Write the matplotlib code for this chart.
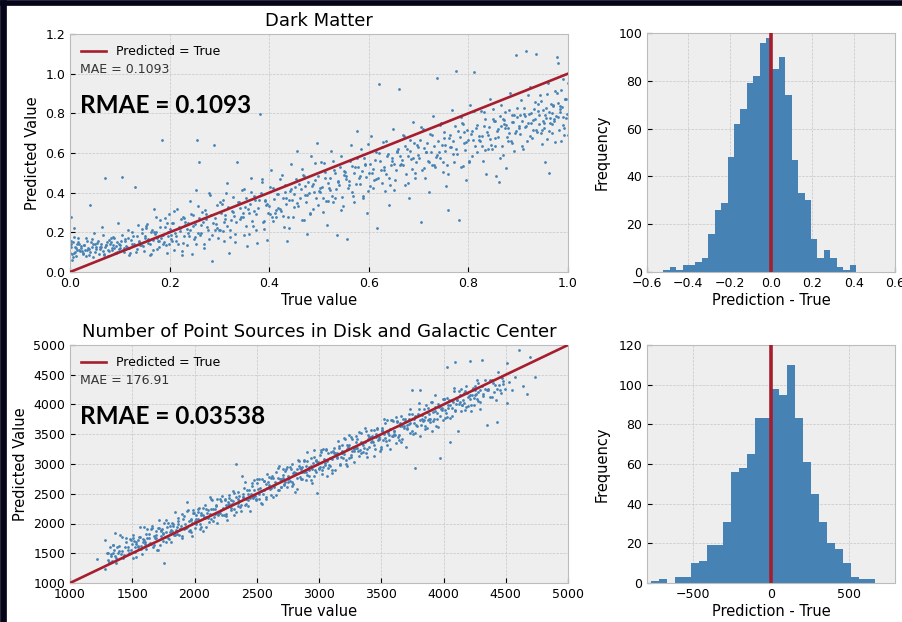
import numpy as np
import matplotlib
matplotlib.use("Agg")
import matplotlib.pyplot as plt
from matplotlib.patches import Rectangle

# Dark Matter: true value vs predicted value
dm_true = [
    0.002, 0.004, 0.006, 0.001, 0.008, 0.003, 0.012, 0.015, 0.009, 0.018,
    0.022, 0.027, 0.031, 0.035, 0.038, 0.041, 0.044, 0.047, 0.025, 0.049,
    0.052, 0.055, 0.058, 0.061, 0.064, 0.067, 0.070, 0.073, 0.076, 0.079,
    0.081, 0.084, 0.087, 0.090, 0.093, 0.096, 0.099, 0.102, 0.105, 0.108,
    0.111, 0.114, 0.117, 0.121, 0.124, 0.127, 0.131, 0.134, 0.137, 0.139,
    0.142, 0.145, 0.148, 0.151, 0.154, 0.157, 0.161, 0.164, 0.167, 0.169,
    0.172, 0.175, 0.178, 0.181, 0.184, 0.187, 0.191, 0.194, 0.197, 0.199,
    0.202, 0.205, 0.208, 0.211, 0.214, 0.217, 0.221, 0.224, 0.227, 0.229,
    0.231, 0.234, 0.237, 0.241, 0.244, 0.247, 0.251, 0.254, 0.256, 0.259,
    0.262, 0.266, 0.270, 0.273, 0.277, 0.281, 0.285, 0.289, 0.293, 0.297,
    0.301, 0.305, 0.309, 0.312, 0.316, 0.320, 0.324, 0.328, 0.332, 0.336,
    0.341, 0.345, 0.349, 0.352, 0.356, 0.360, 0.364, 0.368, 0.372, 0.376,
    0.381, 0.385, 0.389, 0.392, 0.396, 0.400, 0.404, 0.408, 0.412, 0.416,
    0.421, 0.425, 0.429, 0.432, 0.436, 0.440, 0.444, 0.448, 0.452, 0.456,
    0.461, 0.465, 0.469, 0.472, 0.476, 0.480, 0.484, 0.488, 0.492, 0.496,
    0.501, 0.505, 0.509, 0.512, 0.516, 0.520, 0.524, 0.528, 0.532, 0.536,
    0.541, 0.545, 0.549, 0.552, 0.556, 0.560, 0.564, 0.568, 0.572, 0.576,
    0.581, 0.585, 0.589, 0.592, 0.596, 0.600, 0.604, 0.608, 0.612, 0.616,
    0.621, 0.625, 0.629, 0.632, 0.636, 0.640, 0.644, 0.648, 0.652, 0.656,
    0.661, 0.665, 0.669, 0.672, 0.676, 0.680, 0.684, 0.688, 0.692, 0.696,
    0.701, 0.705, 0.709, 0.712, 0.716, 0.720, 0.724, 0.728, 0.732, 0.736,
    0.741, 0.745, 0.749, 0.752, 0.756, 0.760, 0.764, 0.768, 0.772, 0.776,
    0.781, 0.785, 0.789, 0.792, 0.796, 0.800, 0.804, 0.808, 0.812, 0.816,
    0.821, 0.825, 0.829, 0.832, 0.836, 0.840, 0.844, 0.848, 0.852, 0.856,
    0.861, 0.865, 0.869, 0.872, 0.876, 0.880, 0.884, 0.888, 0.892, 0.896,
    0.901, 0.905, 0.909, 0.912, 0.916, 0.920, 0.924, 0.928, 0.932, 0.936,
    0.941, 0.944, 0.947, 0.950, 0.953, 0.956, 0.959, 0.962, 0.965, 0.968,
    0.971, 0.974, 0.977, 0.980, 0.983, 0.986, 0.989, 0.992, 0.995, 0.998,
    0.000, 0.005, 0.010, 0.002, 0.014, 0.007, 0.019, 0.023, 0.011, 0.016,
    0.026, 0.029, 0.033, 0.036, 0.040, 0.043, 0.046, 0.050, 0.053, 0.034,
    0.057, 0.060, 0.063, 0.066, 0.069, 0.072, 0.075, 0.078, 0.082, 0.085,
    0.086, 0.089, 0.092, 0.095, 0.098, 0.101, 0.104, 0.107, 0.110, 0.113,
    0.116, 0.119, 0.122, 0.125, 0.128, 0.132, 0.135, 0.138, 0.141, 0.144,
    0.147, 0.150, 0.153, 0.156, 0.160, 0.163, 0.166, 0.170, 0.174, 0.177,
    0.180, 0.183, 0.186, 0.190, 0.193, 0.196, 0.200, 0.204, 0.207, 0.212,
    0.220, 0.223, 0.226, 0.230, 0.235, 0.239, 0.243, 0.248, 0.252, 0.257,
    0.260, 0.264, 0.268, 0.272, 0.276, 0.280, 0.284, 0.288, 0.292, 0.296,
    0.300, 0.304, 0.307, 0.311, 0.315, 0.318, 0.322, 0.326, 0.330, 0.334,
    0.339, 0.343, 0.347, 0.350, 0.354, 0.358, 0.362, 0.366, 0.370, 0.374,
    0.378, 0.383, 0.387, 0.391, 0.394, 0.398, 0.402, 0.406, 0.410, 0.414,
    0.418, 0.423, 0.427, 0.431, 0.434, 0.438, 0.442, 0.446, 0.450, 0.454,
    0.458, 0.463, 0.467, 0.471, 0.474, 0.478, 0.482, 0.486, 0.490, 0.494,
    0.498, 0.503, 0.507, 0.511, 0.514, 0.518, 0.522, 0.526, 0.530, 0.534,
    0.538, 0.543, 0.547, 0.551, 0.554, 0.558, 0.562, 0.566, 0.570, 0.574,
    0.578, 0.583, 0.587, 0.591, 0.594, 0.598, 0.602, 0.606, 0.610, 0.614,
    0.618, 0.623, 0.627, 0.631, 0.634, 0.638, 0.642, 0.646, 0.650, 0.654,
    0.658, 0.663, 0.667, 0.671, 0.674, 0.678, 0.682, 0.686, 0.690, 0.694,
    0.698, 0.703, 0.707, 0.711, 0.714, 0.718, 0.722, 0.726, 0.730, 0.734,
    0.738, 0.743, 0.747, 0.751, 0.754, 0.758, 0.762, 0.766, 0.770, 0.774,
    0.778, 0.783, 0.787, 0.791, 0.794, 0.798, 0.802, 0.806, 0.810, 0.814,
    0.818, 0.823, 0.827, 0.831, 0.834, 0.838, 0.842, 0.846, 0.850, 0.854,
    0.858, 0.863, 0.867, 0.871, 0.874, 0.878, 0.882, 0.886, 0.890, 0.894,
    0.898, 0.903, 0.907, 0.911, 0.914, 0.918, 0.922, 0.926, 0.930, 0.934,
    0.938, 0.942, 0.946, 0.949, 0.952, 0.955, 0.958, 0.961, 0.964, 0.967,
    0.969, 0.972, 0.975, 0.978, 0.981, 0.984, 0.987, 0.990, 0.993, 0.996,
    0.003, 0.008, 0.013, 0.017, 0.021, 0.028, 0.032, 0.039, 0.045, 0.051,
    0.062, 0.068, 0.071, 0.077, 0.083, 0.088, 0.094, 0.100, 0.109, 0.118,
    0.853, 0.859, 0.866, 0.873, 0.879, 0.887, 0.895, 0.904, 0.915, 0.926,
    0.933, 0.939, 0.948, 0.954, 0.963, 0.970, 0.979, 0.985, 0.991, 0.999,
    0.152, 0.158, 0.163, 0.168, 0.173, 0.179, 0.184, 0.189, 0.194, 0.198,
    0.203, 0.209, 0.213, 0.218, 0.224, 0.229, 0.236, 0.241, 0.246, 0.253,
    0.258, 0.263, 0.269, 0.274, 0.279, 0.286, 0.291, 0.295, 0.302, 0.307,
    0.310, 0.314, 0.321, 0.327, 0.331, 0.337, 0.342, 0.348, 0.353, 0.359,
    0.363, 0.369, 0.373, 0.379, 0.386, 0.390, 0.395, 0.401, 0.407, 0.413,
    0.417, 0.422, 0.428, 0.433, 0.439, 0.443, 0.449, 0.455, 0.460, 0.466,
    0.470, 0.475, 0.481, 0.487, 0.491, 0.497, 0.502, 0.508, 0.513, 0.519,
    0.523, 0.529, 0.533, 0.539, 0.544, 0.550, 0.555, 0.561, 0.567, 0.571,
    0.577, 0.582, 0.588, 0.593, 0.599, 0.603, 0.609, 0.615, 0.620, 0.626,
    0.630, 0.635, 0.641, 0.647, 0.651, 0.657, 0.662, 0.668, 0.673, 0.679,
    0.683, 0.689, 0.693, 0.699, 0.704, 0.710, 0.715, 0.721, 0.727, 0.731,
    0.737, 0.742, 0.748, 0.753, 0.759, 0.763, 0.769, 0.775, 0.780, 0.786,
    0.790, 0.795, 0.801, 0.807, 0.811, 0.817, 0.822, 0.828, 0.833, 0.839,
    0.843, 0.849, 0.853, 0.859, 0.864, 0.870, 0.875, 0.881, 0.887, 0.891,
    0.897, 0.902, 0.908, 0.913, 0.919, 0.923, 0.929, 0.935, 0.940, 0.946,
    0.951, 0.957, 0.962, 0.968, 0.973, 0.979, 0.984, 0.990, 0.994, 0.999,
]
dm_pred = [
    0.276, 0.058, 0.152, 0.097, 0.221, 0.124, 0.083, 0.139, 0.178, 0.113,
    0.131, 0.094, 0.112, 0.158, 0.087, 0.337, 0.124, 0.142, 0.105, 0.196,
    0.118, 0.146, 0.093, 0.127, 0.225, 0.108, 0.472, 0.136, 0.081, 0.161,
    0.142, 0.112, 0.178, 0.098, 0.131, 0.245, 0.116, 0.155, 0.478, 0.103,
    0.165, 0.128, 0.212, 0.094, 0.143, 0.181, 0.427, 0.118, 0.236, 0.152,
    0.134, 0.196, 0.105, 0.172, 0.241, 0.148, 0.088, 0.213, 0.163, 0.319,
    0.201, 0.118, 0.157, 0.263, 0.666, 0.142, 0.226, 0.095, 0.184, 0.292,
    0.168, 0.245, 0.112, 0.197, 0.318, 0.143, 0.221, 0.086, 0.276, 0.182,
    0.254, 0.137, 0.198, 0.356, 0.091, 0.232, 0.176, 0.412, 0.668, 0.553,
    0.187, 0.305, 0.122, 0.268, 0.214, 0.386, 0.055, 0.639, 0.241, 0.172,
    0.213, 0.342, 0.156, 0.287, 0.451, 0.098, 0.264, 0.379, 0.192, 0.553,
    0.265, 0.412, 0.187, 0.326, 0.129, 0.298, 0.476, 0.231, 0.364, 0.145,
    0.798, 0.452, 0.218, 0.365, 0.163, 0.331, 0.512, 0.256, 0.297, 0.391,
    0.318, 0.487, 0.226, 0.401, 0.156, 0.362, 0.547, 0.276, 0.428, 0.611,
    0.372, 0.521, 0.264, 0.436, 0.193, 0.397, 0.583, 0.318, 0.462, 0.648,
    0.408, 0.553, 0.301, 0.472, 0.236, 0.426, 0.612, 0.352, 0.497, 0.189,
    0.437, 0.586, 0.332, 0.503, 0.165, 0.458, 0.641, 0.384, 0.528, 0.712,
    0.476, 0.622, 0.371, 0.543, 0.298, 0.497, 0.684, 0.425, 0.567, 0.221,
    0.948, 0.514, 0.657, 0.408, 0.583, 0.336, 0.538, 0.722, 0.463, 0.606,
    0.921, 0.547, 0.693, 0.441, 0.618, 0.372, 0.571, 0.756, 0.497, 0.639,
    0.577, 0.252, 0.723, 0.474, 0.648, 0.405, 0.603, 0.787, 0.528, 0.978,
    0.606, 0.752, 0.503, 0.677, 0.434, 0.312, 0.632, 0.816, 0.557, 1.012,
    0.262, 0.781, 0.532, 0.706, 0.463, 0.664, 0.843, 0.587, 1.008, 0.728,
    0.667, 0.812, 0.561, 0.737, 0.494, 0.693, 0.874, 0.618, 0.761, 0.483,
    0.452, 0.841, 0.592, 0.767, 0.526, 0.724, 0.903, 0.648, 0.792, 1.092,
    0.727, 0.868, 0.621, 0.796, 1.116, 0.752, 0.932, 0.676, 0.821, 1.098,
    0.748, 0.892, 0.644, 0.818, 0.553, 0.776, 0.954, 0.498, 0.847, 0.701,
    0.769, 0.912, 1.086, 1.052, 0.838, 0.662, 0.973, 0.724, 0.871, 0.798,
    0.135, 0.093, 0.125, 0.158, 0.110, 0.075, 0.143, 0.121, 0.103, 0.173,
    0.093, 0.135, 0.170, 0.120, 0.103, 0.153, 0.076, 0.143, 0.128, 0.113,
    0.155, 0.115, 0.128, 0.188, 0.093, 0.138, 0.150, 0.105, 0.170, 0.123,
    0.135, 0.173, 0.098, 0.153, 0.143, 0.120, 0.188, 0.110, 0.158, 0.130,
    0.173, 0.122, 0.161, 0.200, 0.143, 0.101, 0.182, 0.155, 0.134, 0.218,
    0.131, 0.182, 0.224, 0.164, 0.143, 0.203, 0.110, 0.191, 0.173, 0.155,
    0.225, 0.169, 0.187, 0.271, 0.138, 0.201, 0.218, 0.155, 0.246, 0.180,
    0.207, 0.267, 0.147, 0.235, 0.219, 0.183, 0.291, 0.167, 0.243, 0.199,
    0.272, 0.196, 0.254, 0.313, 0.227, 0.164, 0.286, 0.245, 0.214, 0.340,
    0.210, 0.295, 0.365, 0.265, 0.230, 0.330, 0.175, 0.310, 0.280, 0.250,
    0.355, 0.275, 0.300, 0.420, 0.230, 0.320, 0.345, 0.255, 0.385, 0.290,
    0.325, 0.400, 0.250, 0.360, 0.340, 0.295, 0.430, 0.275, 0.370, 0.315,
    0.395, 0.310, 0.375, 0.440, 0.345, 0.275, 0.410, 0.365, 0.330, 0.470,
    0.335, 0.420, 0.490, 0.390, 0.355, 0.455, 0.300, 0.435, 0.405, 0.375,
    0.485, 0.405, 0.430, 0.550, 0.360, 0.450, 0.475, 0.385, 0.515, 0.420,
    0.455, 0.530, 0.380, 0.490, 0.470, 0.425, 0.560, 0.405, 0.500, 0.445,
    0.530, 0.445, 0.510, 0.575, 0.480, 0.410, 0.545, 0.500, 0.465, 0.605,
    0.475, 0.560, 0.630, 0.530, 0.495, 0.595, 0.440, 0.575, 0.545, 0.515,
    0.620, 0.540, 0.565, 0.685, 0.495, 0.585, 0.610, 0.520, 0.650, 0.555,
    0.590, 0.665, 0.515, 0.625, 0.605, 0.560, 0.695, 0.540, 0.635, 0.580,
    0.660, 0.575, 0.640, 0.705, 0.610, 0.540, 0.675, 0.630, 0.595, 0.735,
    0.595, 0.680, 0.750, 0.650, 0.615, 0.715, 0.560, 0.695, 0.665, 0.635,
    0.740, 0.660, 0.685, 0.805, 0.615, 0.705, 0.730, 0.640, 0.770, 0.675,
    0.710, 0.785, 0.635, 0.745, 0.725, 0.680, 0.815, 0.660, 0.755, 0.700,
    0.780, 0.695, 0.760, 0.825, 0.730, 0.660, 0.795, 0.750, 0.715, 0.855,
    0.705, 0.790, 0.860, 0.760, 0.725, 0.825, 0.670, 0.805, 0.775, 0.745,
    0.840, 0.760, 0.785, 0.905, 0.715, 0.805, 0.830, 0.740, 0.870, 0.775,
    0.141, 0.097, 0.119, 0.152, 0.107, 0.138, 0.079, 0.117, 0.164, 0.102,
    0.141, 0.087, 0.124, 0.109, 0.153, 0.119, 0.101, 0.134, 0.121, 0.088,
    0.763, 0.682, 0.738, 0.806, 0.659, 0.756, 0.712, 0.791, 0.738, 0.804,
    0.771, 0.814, 0.716, 0.793, 0.752, 0.836, 0.781, 0.918, 0.693, 0.952,
    0.231, 0.163, 0.091, 0.203, 0.279, 0.127, 0.187, 0.151, 0.247, 0.139,
    0.189, 0.310, 0.157, 0.229, 0.108, 0.270, 0.247, 0.211, 0.288, 0.139,
    0.332, 0.239, 0.140, 0.294, 0.398, 0.189, 0.272, 0.222, 0.354, 0.206,
    0.252, 0.400, 0.213, 0.301, 0.153, 0.351, 0.323, 0.279, 0.373, 0.191,
    0.402, 0.309, 0.210, 0.364, 0.468, 0.259, 0.342, 0.292, 0.424, 0.276,
    0.322, 0.470, 0.283, 0.371, 0.223, 0.421, 0.393, 0.349, 0.443, 0.261,
    0.482, 0.389, 0.290, 0.444, 0.548, 0.339, 0.422, 0.372, 0.504, 0.356,
    0.412, 0.560, 0.373, 0.461, 0.313, 0.511, 0.483, 0.439, 0.533, 0.351,
    0.577, 0.484, 0.385, 0.539, 0.643, 0.434, 0.517, 0.467, 0.599, 0.451,
    0.512, 0.660, 0.473, 0.561, 0.413, 0.611, 0.583, 0.539, 0.633, 0.451,
    0.667, 0.574, 0.475, 0.629, 0.733, 0.524, 0.607, 0.557, 0.689, 0.541,
    0.592, 0.740, 0.553, 0.641, 0.493, 0.691, 0.663, 0.619, 0.713, 0.531,
    0.747, 0.654, 0.555, 0.709, 0.813, 0.604, 0.687, 0.637, 0.769, 0.621,
    0.672, 0.820, 0.633, 0.721, 0.573, 0.771, 0.743, 0.699, 0.793, 0.611,
    0.827, 0.734, 0.635, 0.789, 0.893, 0.684, 0.767, 0.717, 0.849, 0.701,
    0.752, 0.900, 0.713, 0.801, 0.653, 0.851, 0.823, 0.779, 0.873, 0.691,
]

# Dark Matter residual histogram (prediction - true), 30 bins
dm_hist_counts = [1, 2, 1, 3, 3, 4, 6, 16, 26, 29, 48, 62, 68, 79, 82,
                  96, 98, 85, 90, 74, 47, 33, 30, 14, 6, 9, 6, 2, 1, 3]
dm_hist_range = (-0.521, 0.411)

# Point sources: true value vs predicted value
ps_true = [
    1214, 1281, 1283, 1296, 1305, 1318, 1327, 1336, 1342, 1349,
    1352, 1364, 1371, 1385, 1393, 1404, 1418, 1432, 1447, 1466,
    1478, 1486, 1497, 1509, 1521, 1534, 1548, 1561, 1576, 1592,
    1603, 1612, 1626, 1638, 1651, 1664, 1677, 1690, 1703, 1718,
    1729, 1738, 1751, 1755, 1768, 1781, 1794, 1808, 1822, 1839,
    1852, 1864, 1877, 1889, 1902, 1916, 1929, 1943, 1957, 1968,
    1978, 1989, 2003, 2016, 2028, 2041, 2055, 2068, 2082, 2096,
    2104, 2117, 2129, 2142, 2156, 2169, 2183, 2196, 2209, 2221,
    2228, 2241, 2255, 2268, 2281, 2294, 2308, 2321, 2337, 2346,
    2352, 2366, 2379, 2392, 2405, 2418, 2432, 2445, 2459, 2472,
    2478, 2491, 2504, 2517, 2531, 2544, 2557, 2571, 2584, 2597,
    2603, 2616, 2629, 2643, 2656, 2669, 2683, 2696, 2709, 2722,
    2728, 2741, 2754, 2768, 2781, 2794, 2808, 2821, 2834, 2848,
    2852, 2866, 2879, 2892, 2905, 2918, 2932, 2945, 2958, 2971,
    2979, 2983, 2996, 3009, 3022, 3036, 3049, 3062, 3076, 3089,
    3104, 3117, 3129, 3142, 3156, 3169, 3183, 3196, 3209, 3221,
    3228, 3241, 3255, 3268, 3281, 3294, 3308, 3321, 3337, 3346,
    3352, 3366, 3379, 3392, 3405, 3418, 3432, 3445, 3459, 3472,
    3478, 3491, 3504, 3517, 3531, 3544, 3557, 3571, 3584, 3597,
    3603, 3616, 3629, 3643, 3656, 3669, 3683, 3696, 3709, 3722,
    3728, 3744, 3754, 3771, 3781, 3794, 3808, 3811, 3834, 3848,
    3852, 3866, 3879, 3892, 3905, 3918, 3932, 3945, 3958, 3973,
    3981, 3994, 4008, 4021, 4026, 4039, 4052, 4066, 4079, 4092,
    4104, 4113, 4129, 4142, 4156, 4169, 4183, 4196, 4213, 4221,
    4228, 4241, 4255, 4268, 4281, 4294, 4307, 4321, 4337, 4346,
    4358, 4372, 4389, 4403, 4418, 4427, 4443, 4458, 4476, 4492,
    4507, 4507, 4524, 4548, 4573, 4609, 4635, 4668, 4695, 4735,
    1302, 1315, 1331, 1344, 1358, 1369, 1381, 1396, 1409, 1421,
    1427, 1439, 1452, 1463, 1476, 1489, 1503, 1516, 1531, 1548,
    1558, 1569, 1583, 1597, 1608, 1621, 1633, 1648, 1662, 1679,
    1693, 1706, 1719, 1733, 1746, 1761, 1774, 1788, 1801, 1816,
    1829, 1843, 1857, 1871, 1884, 1897, 1911, 1924, 1938, 1951,
    1962, 1974, 1987, 2001, 2014, 2027, 2041, 2054, 2068, 2081,
    2094, 2108, 2121, 2134, 2148, 2161, 2174, 2188, 2201, 2214,
    2228, 2241, 2254, 2267, 2281, 2294, 2307, 2321, 2334, 2347,
    2361, 2374, 2387, 2401, 2414, 2427, 2441, 2454, 2467, 2481,
    2494, 2507, 2521, 2534, 2547, 2561, 2574, 2587, 2601, 2614,
    2627, 2641, 2654, 2667, 2681, 2694, 2707, 2721, 2734, 2747,
    2761, 2774, 2787, 2801, 2814, 2827, 2841, 2854, 2867, 2881,
    2894, 2907, 2921, 2934, 2947, 2961, 2974, 2987, 3001, 3014,
    3027, 3041, 3054, 3067, 3081, 3094, 3107, 3121, 3134, 3147,
    3161, 3174, 3187, 3201, 3214, 3227, 3241, 3254, 3267, 3281,
    3294, 3307, 3321, 3334, 3347, 3361, 3374, 3387, 3401, 3414,
    3427, 3441, 3454, 3467, 3481, 3494, 3507, 3521, 3534, 3547,
    3561, 3574, 3587, 3601, 3614, 3627, 3641, 3654, 3667, 3681,
    3694, 3707, 3721, 3734, 3747, 3761, 3774, 3787, 3801, 3814,
    3827, 3841, 3854, 3867, 3881, 3894, 3907, 3921, 3934, 3947,
    3961, 3974, 3987, 4001, 4014, 4027, 4041, 4054, 4067, 4081,
    4094, 4107, 4121, 4134, 4147, 4161, 4174, 4187, 4201, 4214,
    4227, 4241, 4254, 4267, 4281, 4294, 4307, 4321, 4334, 4347,
    4361, 4374, 4387, 4401, 4414, 4427, 4441, 4454, 4467, 4481,
    1505, 1519, 1532, 1546, 1561, 1574, 1588, 1603, 1617, 1632,
    1646, 1660, 1675, 1689, 1702, 1716, 1731, 1745, 1759, 1772,
    1786, 1800, 1815, 1829, 1842, 1856, 1871, 1885, 1899, 1912,
    1926, 1940, 1955, 1969, 1982, 1996, 2011, 2025, 2039, 2052,
    2066, 2080, 2095, 2109, 2122, 2136, 2151, 2165, 2179, 2192,
    2206, 2220, 2235, 2249, 2262, 2276, 2291, 2305, 2319, 2332,
    2346, 2360, 2375, 2389, 2402, 2416, 2431, 2445, 2459, 2472,
    2486, 2500, 2515, 2529, 2542, 2556, 2571, 2585, 2599, 2612,
    2626, 2640, 2655, 2669, 2682, 2696, 2711, 2725, 2739, 2752,
    2766, 2780, 2795, 2809, 2822, 2836, 2851, 2865, 2879, 2892,
    2906, 2920, 2935, 2949, 2962, 2976, 2991, 3005, 3019, 3032,
    3046, 3060, 3075, 3089, 3102, 3116, 3131, 3145, 3159, 3172,
    3186, 3200, 3215, 3229, 3242, 3256, 3271, 3285, 3299, 3312,
    3326, 3340, 3355, 3369, 3382, 3396, 3411, 3425, 3439, 3452,
    3466, 3480, 3495, 3509, 3522, 3536, 3551, 3565, 3579, 3592,
    3606, 3620, 3635, 3649, 3662, 3676, 3691, 3705, 3719, 3732,
    3746, 3760, 3775, 3789, 3802, 3816, 3831, 3845, 3859, 3872,
    3886, 3900, 3915, 3929, 3942, 3956, 3971, 3985, 3999, 4012,
    4026, 4040, 4055, 4069, 4082, 4096, 4111, 4125, 4139, 4152,
    4166, 4180, 4195, 4209, 4222, 4236, 4251, 4265, 4279, 4292,
]
ps_pred = [
    1403, 1723, 1230, 1512, 1388, 1597, 1461, 1364, 1642, 1508,
    1562, 1843, 1421, 1497, 1628, 1812, 1546, 1469, 1690, 1598,
    1745, 1563, 1662, 1813, 1524, 1688, 1602, 1769, 1487, 1728,
    1682, 1825, 1641, 1758, 1903, 1612, 1798, 1876, 1558, 2062,
    1797, 1914, 1702, 1341, 1862, 1948, 1735, 1889, 2014, 1806,
    1886, 2047, 1812, 1964, 1748, 2118, 1927, 2364, 2042, 1851,
    2012, 2176, 1923, 2078, 2251, 1986, 2142, 1874, 2318, 2103,
    2183, 2026, 2247, 2391, 2114, 2286, 2012, 2198, 2373, 2141,
    2236, 2394, 2152, 2318, 2487, 2229, 2371, 2145, 3008, 2296,
    2412, 2271, 2798, 2453, 2318, 2562, 2387, 2216, 2624, 2478,
    2562, 2387, 2684, 2498, 2351, 2742, 2569, 2442, 2836, 2618,
    2586, 2772, 2453, 2698, 2867, 2561, 2742, 2614, 2912, 2668,
    2876, 2612, 2794, 2953, 2697, 2843, 2534, 2918, 3062, 2781,
    2917, 2748, 3064, 2862, 3208, 2798, 2967, 2684, 3116, 2893,
    3046, 2518, 2912, 3158, 2838, 3247, 3012, 2794, 3186, 2961,
    3087, 3264, 2893, 3178, 3382, 2986, 3224, 3108, 3412, 2962,
    3312, 3094, 3456, 3214, 3038, 3378, 3262, 3541, 3183, 3352,
    3324, 3612, 3186, 3428, 3278, 3574, 3367, 3132, 3496, 3401,
    3446, 3218, 3597, 3396, 3689, 3312, 3524, 3258, 3472, 3718,
    3562, 3347, 3718, 3492, 3812, 3418, 3647, 3286, 3584, 3754,
    3694, 4244, 3512, 2928, 3648, 3834, 3467, 4244, 3716, 3592,
    3786, 3612, 3938, 3704, 3547, 3872, 4160, 3758, 3624, 3096,
    3918, 3747, 4086, 3864, 4636, 3992, 3375, 3812, 4046, 4720,
    4012, 3560, 4168, 3894, 4072, 4231, 3958, 4118, 4736, 3986,
    4153, 3986, 4318, 4086, 4212, 3928, 4748, 4172, 4268, 3655,
    4268, 4134, 4412, 4216, 4078, 3711, 4336, 4198, 4392, 4258,
    4030, 4692, 4386, 4248, 4456, 4916, 4314, 4171, 4803, 4457,
    1502, 1345, 1491, 1634, 1458, 1329, 1611, 1536, 1479, 1771,
    1417, 1599, 1752, 1563, 1506, 1719, 1423, 1706, 1661, 1618,
    1768, 1619, 1683, 1937, 1568, 1761, 1823, 1658, 1932, 1759,
    1763, 1926, 1639, 1873, 1846, 1771, 2054, 1758, 1961, 1866,
    1959, 1803, 1947, 2091, 1914, 1787, 2071, 1994, 1938, 2231,
    1892, 2074, 2227, 2041, 1984, 2197, 1901, 2184, 2138, 2091,
    2244, 2098, 2161, 2414, 2048, 2241, 2304, 2138, 2411, 2234,
    2253, 2416, 2129, 2362, 2336, 2259, 2542, 2246, 2449, 2352,
    2461, 2304, 2447, 2591, 2414, 2287, 2571, 2494, 2437, 2731,
    2404, 2587, 2741, 2554, 2497, 2711, 2414, 2697, 2651, 2604,
    2757, 2611, 2674, 2927, 2561, 2754, 2817, 2651, 2924, 2747,
    2761, 2924, 2637, 2871, 2844, 2767, 3051, 2754, 2957, 2861,
    2964, 2807, 2951, 3094, 2917, 2791, 3074, 2997, 2941, 3234,
    2897, 3081, 3234, 3047, 2991, 3204, 2907, 3191, 3144, 3097,
    3261, 3114, 3177, 3431, 3064, 3257, 3321, 3154, 3427, 3251,
    3264, 3427, 3141, 3374, 3347, 3271, 3554, 3257, 3461, 3364,
    3467, 3311, 3454, 3597, 3421, 3294, 3577, 3501, 3444, 3737,
    3401, 3584, 3737, 3551, 3494, 3707, 3411, 3694, 3647, 3601,
    3754, 3607, 3671, 3924, 3557, 3751, 3814, 3647, 3921, 3744,
    3757, 3921, 3634, 3867, 3841, 3764, 4047, 3751, 3954, 3857,
    3961, 3804, 3947, 4091, 3914, 3787, 4071, 3994, 3937, 4231,
    3894, 4077, 4231, 4044, 3987, 4201, 3904, 4187, 4141, 4094,
    4247, 4101, 4164, 4417, 4051, 4244, 4307, 4141, 4414, 4237,
    4251, 4414, 4127, 4361, 4334, 4257, 4541, 4244, 4447, 4351,
    1760, 1604, 1437, 1731, 1936, 1569, 1733, 1658, 1912, 1657,
    1676, 1960, 1635, 1809, 1552, 1926, 1891, 1825, 2009, 1692,
    2011, 1855, 1690, 1984, 2187, 1821, 1986, 1910, 2164, 1907,
    1921, 2205, 1880, 2054, 1797, 2171, 2136, 2070, 2254, 1937,
    2261, 2105, 1940, 2234, 2437, 2071, 2236, 2160, 2414, 2157,
    2181, 2465, 2140, 2314, 2057, 2431, 2396, 2330, 2514, 2197,
    2526, 2370, 2205, 2499, 2702, 2336, 2501, 2425, 2679, 2422,
    2456, 2740, 2415, 2589, 2332, 2706, 2671, 2605, 2789, 2472,
    2796, 2640, 2475, 2769, 2972, 2606, 2771, 2695, 2949, 2692,
    2711, 2995, 2670, 2844, 2587, 2961, 2926, 2860, 3044, 2727,
    3051, 2895, 2730, 3024, 3227, 2861, 3026, 2950, 3204, 2947,
    2976, 3260, 2935, 3109, 2852, 3226, 3191, 3125, 3309, 2992,
    3316, 3160, 2995, 3289, 3492, 3126, 3291, 3215, 3469, 3212,
    3236, 3520, 3195, 3369, 3112, 3486, 3451, 3385, 3569, 3252,
    3581, 3425, 3260, 3554, 3757, 3391, 3556, 3480, 3734, 3477,
    3501, 3785, 3460, 3634, 3377, 3751, 3716, 3650, 3834, 3517,
    3841, 3685, 3520, 3814, 4017, 3651, 3816, 3740, 3994, 3737,
    3761, 4045, 3720, 3894, 3637, 4011, 3976, 3910, 4094, 3777,
    4101, 3945, 3780, 4074, 4277, 3911, 4076, 4000, 4254, 3997,
    4021, 4305, 3980, 4154, 3897, 4271, 4236, 4170, 4354, 4037,
]

# Point source residual histogram (prediction - true)
ps_hist_counts = [1, 2, 0, 3, 3, 10, 11, 19, 19, 31, 56, 58, 65, 83, 83,
                  98, 95, 110, 83, 61, 45, 31, 20, 17, 10, 3, 2, 2]
ps_hist_range = (-771, 669)

plt.style.use("bmh")
plt.rcParams["grid.color"] = "#c6c6c6"

W, H = 902, 622
fig = plt.figure(figsize=(W / 100, H / 100), dpi=100)
fig.patch.set_facecolor("white")

# dark slide border on the left and top
fig.patches.append(Rectangle((0, 0), 6 / W, 1, transform=fig.transFigure,
                             color="#06051a", zorder=-1))
fig.patches.append(Rectangle((0, 1 - 5 / H), 1, 5 / H, transform=fig.transFigure,
                             color="#06051a", zorder=-1))

blue = "steelblue"
red = "#A61E2E"


def scatter_panel(ax, true, pred, lo, hi, title, mae, rmae):
    ax.scatter(true, pred, s=4, color=blue, linewidths=0, zorder=2)
    ax.plot([lo, hi], [lo, hi], color=red, lw=1.9, label="Predicted = True", zorder=3)
    ax.set_title(title, fontsize=13, pad=6)
    ax.set_xlabel("True value", fontsize=10.5, labelpad=2)
    ax.set_ylabel("Predicted Value", fontsize=10.5, labelpad=4)
    ax.legend(loc="upper left", fontsize=9, frameon=False)
    ax.text(0.02, 0.85, mae, transform=ax.transAxes, fontsize=9,
            va="center", ha="left", color="#333333")
    ax.text(0.02, 0.70, rmae, transform=ax.transAxes, fontsize=17.5,
            fontfamily="Lato", fontweight="bold", va="center", ha="left", color="black")
    ax.tick_params(labelsize=9)


def hist_panel(ax, counts, rng):
    edges = np.linspace(rng[0], rng[1], len(counts) + 1)
    centers = (edges[:-1] + edges[1:]) / 2
    ax.hist(centers, bins=edges, weights=counts, color=blue, linewidth=0, zorder=2)
    ax.axvline(0, color=red, lw=2.6, zorder=3)
    ax.set_xlabel("Prediction - True", fontsize=10.5, labelpad=2)
    ax.set_ylabel("Frequency", fontsize=10.5, labelpad=6)
    ax.tick_params(labelsize=9)


ax1 = fig.add_axes([70 / W, 1 - 272 / H, 498 / W, 238 / H])
scatter_panel(ax1, dm_true, dm_pred, 0, 1, "Dark Matter", "MAE = 0.1093", "RMAE = 0.1093")
ax1.set_xlim(0, 1)
ax1.set_ylim(0, 1.2)

ax2 = fig.add_axes([647 / W, 1 - 272 / H, 248 / W, 239 / H])
hist_panel(ax2, dm_hist_counts, dm_hist_range)
ax2.set_xlim(-0.6, 0.6)
ax2.set_ylim(0, 100)
ax2.set_xticks(np.arange(-0.6, 0.61, 0.2))

ax3 = fig.add_axes([70 / W, 1 - 583 / H, 498 / W, 238 / H])
scatter_panel(ax3, ps_true, ps_pred, 1000, 5000,
              "Number of Point Sources in Disk and Galactic Center",
              "MAE = 176.91", "RMAE = 0.03538")
ax3.set_xlim(1000, 5000)
ax3.set_ylim(1000, 5000)

ax4 = fig.add_axes([647 / W, 1 - 583 / H, 248 / W, 238 / H])
hist_panel(ax4, ps_hist_counts, ps_hist_range)
ax4.set_xlim(-795, 795)
ax4.set_ylim(0, 120)
ax4.set_xticks([-500, 0, 500])

fig.savefig("out.png", dpi=100)
